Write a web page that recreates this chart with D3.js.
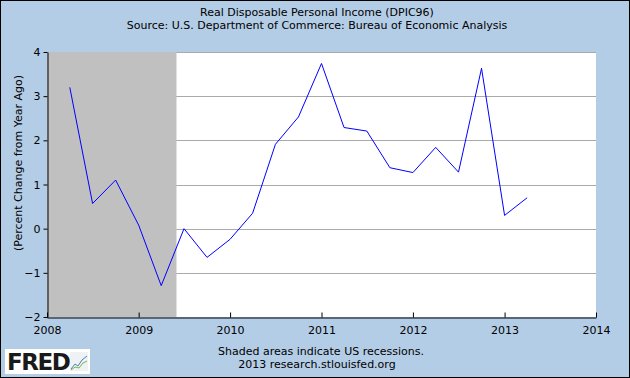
<!DOCTYPE html>
<html>
<head>
<meta charset="utf-8">
<script src="https://cdn.jsdelivr.net/npm/d3@7"></script>
<style>
  html, body { margin: 0; padding: 0; background: #b4cde6; }
  svg { display: block; }
  text { font-family: "DejaVu Sans", Verdana, sans-serif; fill: #000; }
</style>
</head>
<body>
<svg id="chart" width="630" height="378"></svg>
<script>
// ---- data ----
const dates = ["2008-04-01","2008-07-01","2008-10-01","2009-01-01","2009-04-01","2009-07-01","2009-10-01",
               "2010-01-01","2010-04-01","2010-07-01","2010-10-01","2011-01-01","2011-04-01","2011-07-01",
               "2011-10-01","2012-01-01","2012-04-01","2012-07-01","2012-10-01","2013-01-01","2013-04-01"];
const values = [3.20, 0.57, 1.10, 0.08, -1.29, 0.00, -0.65,
                -0.24, 0.35, 1.91, 2.53, 3.74, 2.29, 2.21,
                1.38, 1.27, 1.84, 1.28, 3.63, 0.30, 0.70];
const recessions = [["2007-12-01", "2009-06-01"]];
const xTickYears = [2008, 2009, 2010, 2011, 2012, 2013, 2014];
const yTicks = [-2, -1, 0, 1, 2, 3, 4];
const title = "Real Disposable Personal Income (DPIC96)";
const subtitle = "Source: U.S. Department of Commerce: Bureau of Economic Analysis";
const yLabel = "(Percent Change from Year Ago)";
const footer1 = "Shaded areas indicate US recessions.";
const footer2 = "2013 research.stlouisfed.org";

(function () {
// ---- layout ----
const W = 630, H = 378;
const pL = 47, pR = 596, pT = 52, pB = 317;
const parse = d3.timeParse("%Y-%m-%d");
const svg = d3.select("#chart");

const x = d3.scaleTime()
  .domain([new Date(2008, 0, 1), new Date(2014, 0, 1)])
  .range([pL, pR]);
const y = d3.scaleLinear().domain([-2, 4]).range([pB, pT]);

// background + border
svg.append("rect").attr("x", 0.5).attr("y", 0.5).attr("width", W - 1).attr("height", H - 1)
  .attr("fill", "#b4cde6").attr("stroke", "#000").attr("stroke-width", 1);

// plot area
svg.append("rect").attr("x", pL).attr("y", pT).attr("width", pR - pL).attr("height", pB - pT)
  .attr("fill", "#ffffff");

// gridlines
svg.append("g").selectAll("line").data(yTicks.filter(d => d > -2)).join("line")
  .attr("x1", pL).attr("x2", pR)
  .attr("y1", d => Math.round(y(d)) + 0.5).attr("y2", d => Math.round(y(d)) + 0.5)
  .attr("stroke", "#aaaaaa").attr("stroke-width", 1);

// recession shading
const x0 = x.domain()[0], x1 = x.domain()[1];
svg.append("g").selectAll("rect").data(recessions).join("rect")
  .attr("x", d => x(Math.max(parse(d[0]), x0)))
  .attr("width", d => x(Math.min(parse(d[1]), x1)) - x(Math.max(parse(d[0]), x0)))
  .attr("y", pT).attr("height", pB - pT)
  .attr("fill", "#c0c0c0");

// x axis
const xAxis = d3.axisBottom(x)
  .tickValues(xTickYears.map(yr => new Date(yr, 0, 1)))
  .tickFormat(d3.timeFormat("%Y"))
  .tickSizeInner(-5).tickSizeOuter(0).tickPadding(9);
const gx = svg.append("g").attr("transform", `translate(0,${pB + 0.5})`).call(xAxis);
gx.select(".domain").attr("stroke", "#000");
gx.selectAll(".tick line").attr("stroke", "#000");
gx.selectAll("text").attr("font-size", 11).attr("font-family", "DejaVu Sans, Verdana, sans-serif").attr("fill", "#000");

// y axis
const yAxis = d3.axisLeft(y).tickValues(yTicks).tickFormat(d3.format("d"))
  .tickSizeInner(4).tickSizeOuter(0).tickPadding(3);
const gy = svg.append("g").attr("transform", `translate(${pL + 0.5},0)`).call(yAxis);
gy.select(".domain").attr("stroke", "#000");
gy.selectAll(".tick line").attr("stroke", "#000");
gy.selectAll("text").attr("font-size", 11).attr("font-family", "DejaVu Sans, Verdana, sans-serif").attr("fill", "#000");

// data line
const data = dates.map((d, i) => ({ date: parse(d), value: values[i] }));
svg.append("path").datum(data)
  .attr("fill", "none").attr("stroke", "#0000ff").attr("stroke-width", 1)
  .attr("d", d3.line().x(d => x(d.date)).y(d => y(d.value)));

// titles
svg.append("text").attr("x", 317).attr("y", 16).attr("text-anchor", "middle").attr("font-size", 11).text(title);
svg.append("text").attr("x", 317).attr("y", 29).attr("text-anchor", "middle").attr("font-size", 11).text(subtitle);

// y label
svg.append("text").attr("transform", "translate(22,163) rotate(-90)")
  .attr("text-anchor", "middle").attr("font-size", 11).text(yLabel);

// footer
svg.append("text").attr("x", 321).attr("y", 355).attr("text-anchor", "middle").attr("font-size", 11).text(footer1);
svg.append("text").attr("x", 317).attr("y", 368).attr("text-anchor", "middle").attr("font-size", 11).text(footer2);

// FRED logo
const logo = svg.append("g");
logo.append("rect").attr("x", 5).attr("y", 349).attr("width", 85).attr("height", 25).attr("fill", "#ffffff");
logo.append("text").attr("x", 7).attr("y", 370).attr("font-size", 23).attr("font-weight", "bold")
  .attr("font-family", "Liberation Sans, Arial, sans-serif").attr("letter-spacing", -1.5)
  .style("fill", "#1a1a1a").text("FRED");
logo.append("rect").attr("x", 70).attr("y", 352).attr("width", 18).attr("height", 19).attr("fill", "#eef2f5");
logo.append("path").attr("d", "M71,369 L75,364 L78,366 L82,360 L87,356").attr("fill", "none").attr("stroke", "#4a7fc0").attr("stroke-width", 1);
logo.append("path").attr("d", "M71,370 L75,367 L79,368 L83,363 L87,361").attr("fill", "none").attr("stroke", "#7cb342").attr("stroke-width", 1);
})();
</script>
</body>
</html>
